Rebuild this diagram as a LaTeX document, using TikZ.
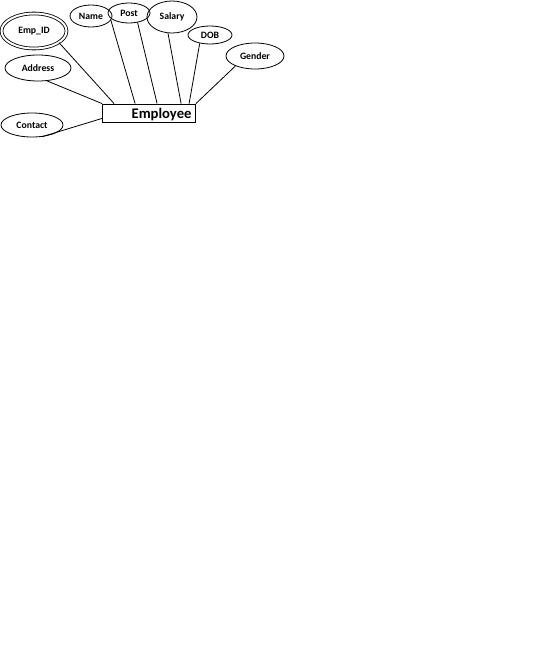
\documentclass[tikz,border=0pt]{standalone}
\usepackage{fontspec}
\setmainfont{Carlito}
\usetikzlibrary{shapes.geometric,calc}

\begin{document}
\begin{tikzpicture}[x=0.75pt,y=-0.75pt,line width=0.6pt,
    attr/.style={ellipse,draw,inner sep=0pt,font=\fontsize{7.3}{8}\selectfont\bfseries},
    entity/.style={rectangle,draw,inner xsep=3pt,inner ysep=0pt,text width=63.75pt,align=right,text height=9.2pt,text depth=1.3pt,minimum height=13.5pt,font=\fontsize{11}{12}\selectfont\bfseries}]
  \fill[white] (0,0) rectangle (536,656);
  \useasboundingbox (0,0) rectangle (536,656);
  \node[entity] (emp) at (149,113) {Employee};
  \node[attr,double,double distance=1.5pt,minimum width=48.75pt,minimum height=26.25pt] (empid) at (34,31) {Emp\_ID};
  \node[attr,minimum width=31.5pt,minimum height=16.5pt] (name) at (91,16) {Name};
  \node[attr,minimum width=31.5pt,minimum height=15pt] (post) at (129,13) {Post};
  \node[attr,minimum width=37.5pt,minimum height=24pt] (salary) at (172,17) {Salary};
  \node[attr,minimum width=33pt,minimum height=13.5pt] (dob) at (210,35) {DOB};
  \node[attr,minimum width=43.5pt,minimum height=19.5pt] (gender) at (255,56) {Gender};
  \node[attr,minimum width=49.5pt,minimum height=19.5pt] (address) at (38,68) {Address};
  \node[attr,minimum width=46.5pt,minimum height=18pt] (contact) at (32,125) {Contact};
  \draw (empid.-25) -- ($(emp.north west)+(12,0)$);
  \draw (address.-55) -- (emp.north west);
  \draw (contact.-50) -- ($(emp.south west)+(0,-4)$);
  \draw (name.-12) -- ($(emp.north west)+(33,0)$);
  \draw (post.-48) -- ($(emp.north west)+(55,0)$);
  \draw (salary.-104) -- ($(emp.north west)+(79,0)$);
  \draw (dob.-141) -- ($(emp.north west)+(87,0)$);
  \draw (gender.-153) -- (emp.north east);
\end{tikzpicture}
\end{document}
